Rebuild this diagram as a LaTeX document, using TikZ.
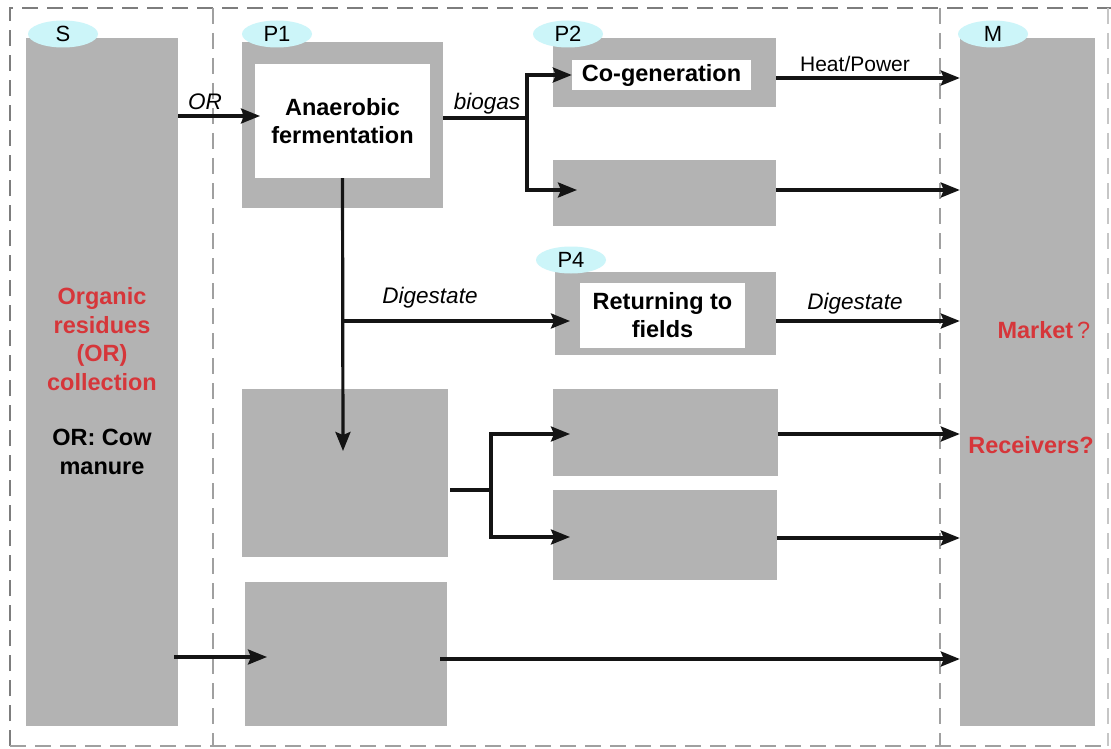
\documentclass[tikz,border=0pt]{standalone}
\usepackage{fontspec}
\setmainfont{Liberation Sans}
\usetikzlibrary{arrows.meta,shapes.geometric}
\definecolor{boxgray}{RGB}{179,179,179}
\definecolor{tagcyan}{RGB}{204,245,249}
\definecolor{framegray}{RGB}{125,125,125}
\definecolor{sepgray}{RGB}{160,160,160}
\definecolor{textred}{RGB}{214,54,58}
\definecolor{inkblack}{RGB}{20,20,20}
\begin{document}
\begin{tikzpicture}[x=1pt,y=-1pt,
  gbox/.style={fill=boxgray,draw=none,inner sep=0pt},
  wbox/.style={fill=white,draw=none,inner sep=0pt,align=center,
    font=\fontsize{23.5}{28}\selectfont\bfseries},
  tag/.style={ellipse,fill=tagcyan,draw=none,inner sep=0pt,
    minimum width=70pt,minimum height=27pt,font=\fontsize{22}{24}\selectfont},
  flow/.style={draw=inkblack,line width=3.2pt,
    -{Stealth[length=19pt,width=15pt,inset=3pt]}},
  link/.style={draw=inkblack,line width=3.2pt},
  lab/.style={font=\fontsize{22.5}{26}\selectfont\itshape,inner sep=0pt},
  sep/.style={draw=sepgray,line width=2.4pt,dash pattern=on 16pt off 9pt},
  frame/.style={draw=framegray,line width=2.8pt,dash pattern=on 16pt off 9pt},
  bigtxt/.style={align=center,font=\fontsize{23.5}{28.5}\selectfont\bfseries}
]
\useasboundingbox (0,0) rectangle (1111,749);
\fill[white] (0,0) rectangle (1111,749);

% dashed frame and column separators
\draw[frame] (10,746) -- (10,8) -- (1111,8);
\draw[sep] (10,746) -- (1108,746);
\draw[sep,draw=sepgray!60] (1108,8) -- (1108,746);
\draw[sep] (213,8) -- (213,746);
\draw[sep] (940,8) -- (940,746);

% source and market columns
\node[gbox,minimum width=152pt,minimum height=688pt] (S) at (102,382) {};
\node[gbox,minimum width=135pt,minimum height=688pt] (M) at (1027.5,382) {};

% process boxes
\node[gbox,minimum width=201pt,minimum height=166pt] (P1) at (342.5,125) {};
\node[wbox,minimum width=175pt,minimum height=114pt] (P1in) at (342.5,121)
  {Anaerobic\\fermentation};
\node[gbox,minimum width=223pt,minimum height=69pt] (P2) at (664.5,72.5) {};
\node[wbox,minimum width=179pt,minimum height=30pt] (P2in) at (661.5,75)
  {Co-generation};
\node[gbox,minimum width=223pt,minimum height=66pt] (P3) at (664.5,193) {};
\node[gbox,minimum width=221pt,minimum height=83pt] (P4) at (665.5,313.5) {};
\node[wbox,minimum width=165pt,minimum height=65pt] (P4in) at (662.5,315.5)
  {Returning to\\fields};
\node[gbox,minimum width=206pt,minimum height=168pt] (P5) at (345,473) {};
\node[gbox,minimum width=225pt,minimum height=87pt] (P6) at (665.5,432.5) {};
\node[gbox,minimum width=224pt,minimum height=90pt] (P7) at (665,535) {};
\node[gbox,minimum width=202pt,minimum height=144pt] (P8) at (346,654) {};

% column tags
\node[tag] (tS) at (63,34) {S};
\node[tag] (tP1) at (277,34) {P1};
\node[tag] (tP2) at (568,34) {P2};
\node[tag] (tP4) at (571,260) {P4};
\node[tag] (tM) at (993,34) {M};

% texts in the side columns
\node[bigtxt,text=textred] (orc) at (102,339)
  {Organic\\residues\\(OR)\\collection};
\node[bigtxt,text=black] (cow) at (102,452) {OR: Cow\\manure};
\node[bigtxt,text=textred,anchor=west] (mkt) at (994,330)
  {Market\,{\mdseries ?}};
\node[bigtxt,text=textred] (rcv) at (1031,445) {Receivers?};

% junction and end points
\coordinate (orEnd) at (260,116);
\coordinate (bgStart) at (443,118);
\coordinate (bgFork) at (527,118);
\coordinate (bgLow) at (577,190);
\coordinate (hpY) at (0,78);
\coordinate (lowY) at (0,190);
\coordinate (dgDown) at (343,451);
\coordinate (dgFork) at (343,321);
\coordinate (dgEnd) at (570,321);
\coordinate (dgY) at (0,321);
\coordinate (brStart) at (450,490);
\coordinate (brFork) at (491,490);
\coordinate (brUp) at (570,434);
\coordinate (brLow) at (570,537);
\coordinate (upY) at (0,434);
\coordinate (loY) at (0,538);
\coordinate (btStart) at (174,657);
\coordinate (btEnd) at (267,657);
\coordinate (btOut) at (440,659);

% connectors
\draw[flow] (S.east |- orEnd) -- (orEnd);
\draw[link] (bgStart) -- (bgFork);
\draw[flow] (bgFork) |- (P2in.west);
\draw[flow] (bgFork) |- (bgLow);
\draw[flow] (P2.east |- hpY) -- (M.west |- hpY);
\draw[flow] (P3.east |- lowY) -- (M.west |- lowY);
\draw[flow] (P1in.south) -- (dgDown);
\draw[flow] (dgFork) -- (dgEnd);
\draw[flow] (P4.east |- dgY) -- (M.west |- dgY);
\draw[link] (brStart) -- (brFork);
\draw[flow] (brFork) |- (brUp);
\draw[flow] (brFork) |- (brLow);
\draw[flow] (P6.east |- upY) -- (M.west |- upY);
\draw[flow] (P7.east |- loY) -- (M.west |- loY);
\draw[flow] (btStart) -- (btEnd);
\draw[flow] (btOut) -- (M.west |- btOut);

% connector labels
\node[lab] (lOR) at (205,102) {OR};
\node[lab] (lbg) at (487,104) {biogas};
\node[lab] (ldg1) at (430,298) {Digestate};
\node[lab,font=\fontsize{21}{24}\selectfont] (lhp) at (855,64) {Heat/Power};
\node[lab] (ldg2) at (855,304) {Digestate};
\end{tikzpicture}
\end{document}
